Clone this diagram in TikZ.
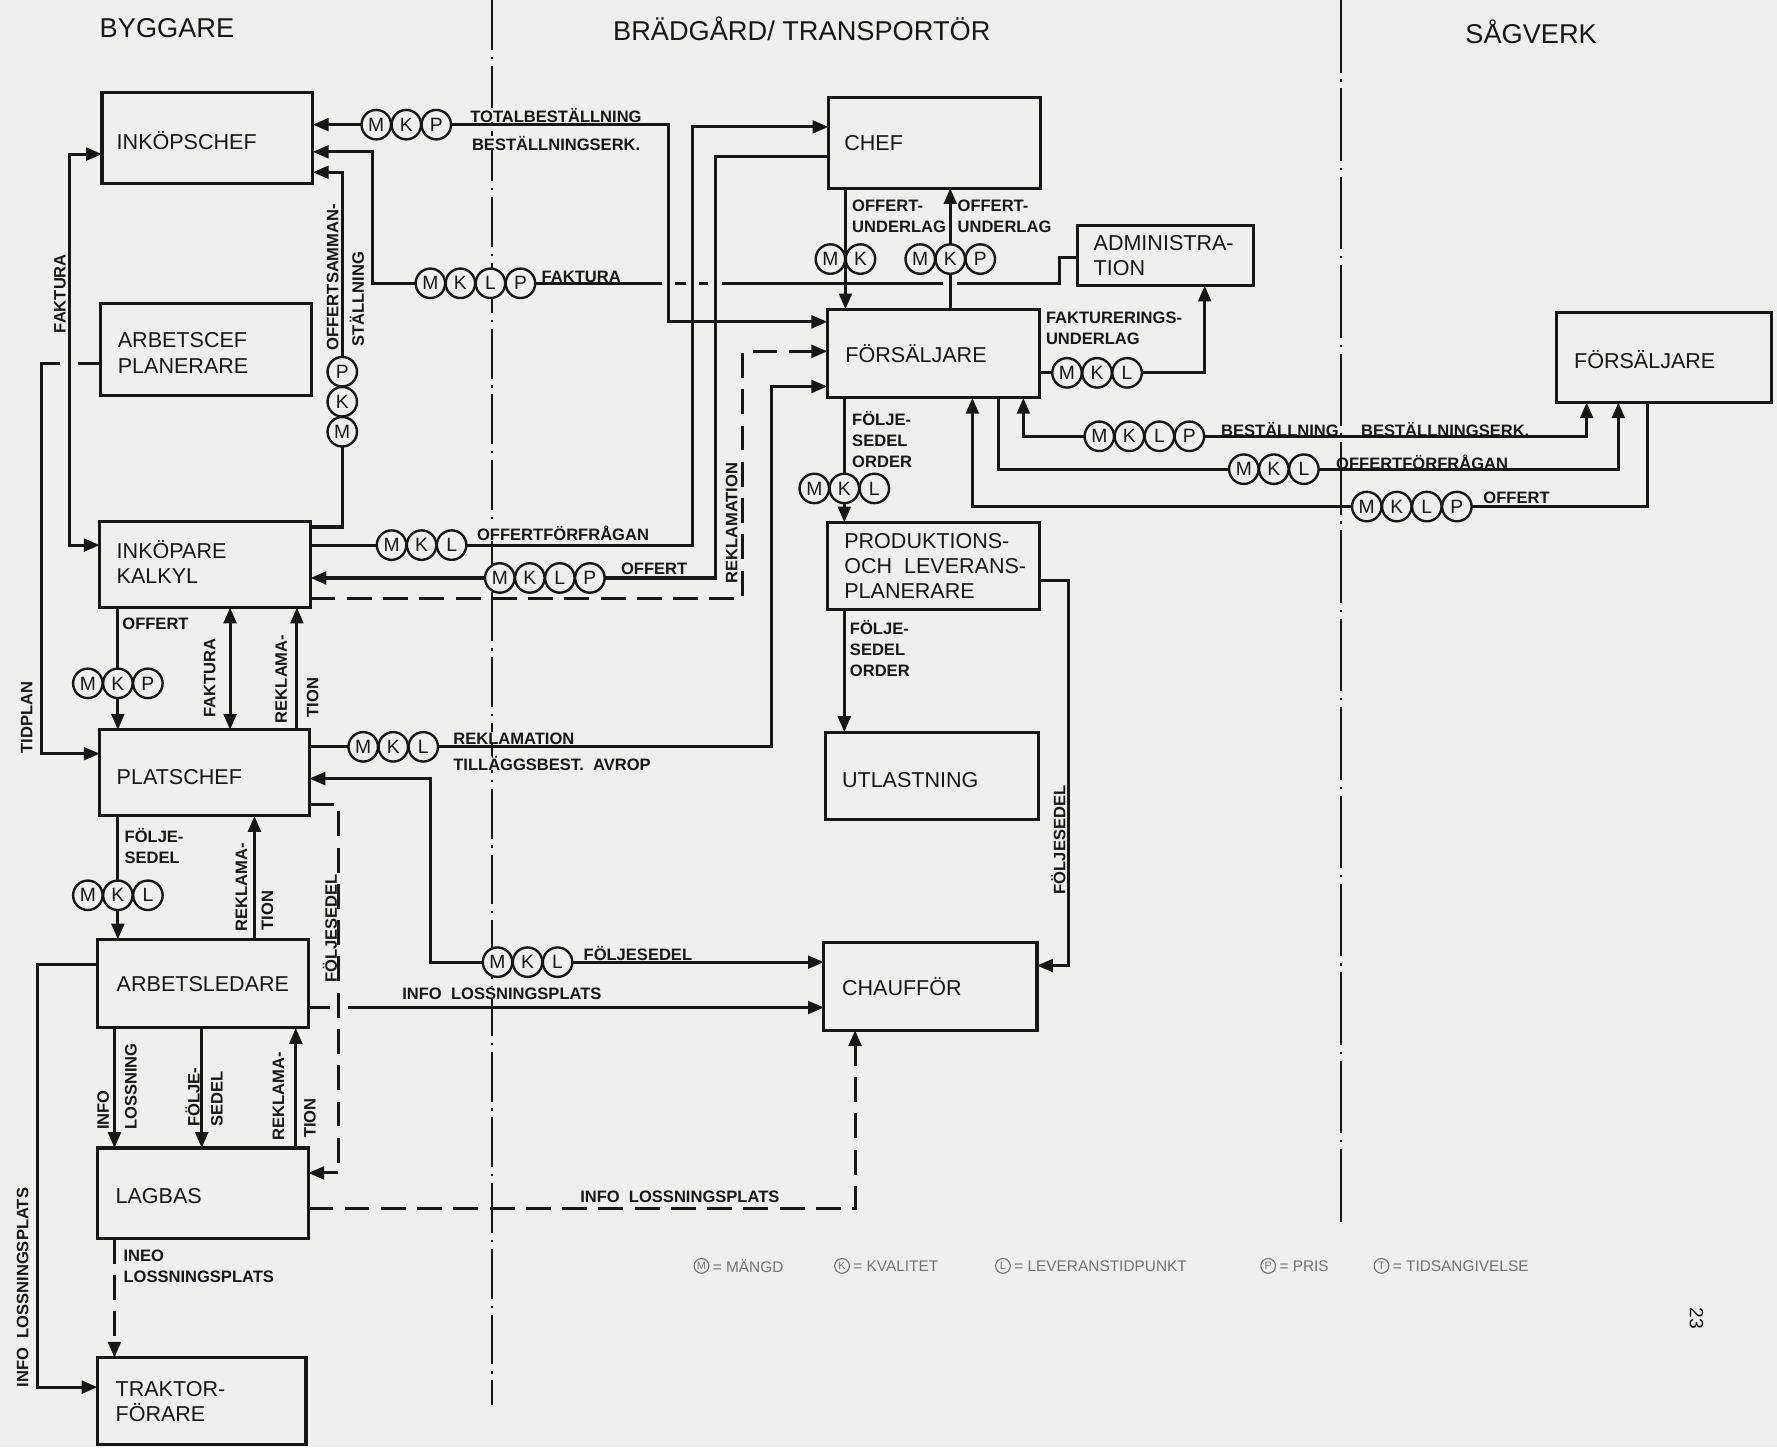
\documentclass[tikz,border=0pt]{standalone}
\usepackage{fontspec}
\setmainfont{Liberation Sans}
\usetikzlibrary{arrows.meta}
\definecolor{paper}{RGB}{239,239,237}
\definecolor{ink}{RGB}{22,22,22}
\newcommand{\tokh}[4]{\foreach \tk [count=\i from 0] in {#4}{\node[tok] (#1\i) at ({#2+\i*26.5},#3) {\tk};}}
\newcommand{\tokv}[4]{\foreach \tk [count=\i from 0] in {#4}{\node[tok] (#1\i) at (#2,{#3-\i*26.5}) {\tk};}}
\tikzset{
  every node/.style={inner sep=0pt, outer sep=0pt, text=ink},
  box/.style={draw=ink, line width=1.35pt},
  boxtxt/.style={anchor=west, align=left, font=\fontsize{9.5}{11.2}\selectfont},
  lab/.style={anchor=west, align=left, font=\fontsize{7.3}{9.3}\selectfont\bfseries},
  flab/.style={lab, fill=paper},
  rlab/.style={rotate=90, anchor=west, font=\fontsize{7.3}{9.3}\selectfont\bfseries},
  head/.style={anchor=west, font=\fontsize{12}{14}\selectfont},
  tok/.style={circle, draw=ink, fill=paper, line width=1.05pt, minimum size=13pt, font=\fontsize{8.5}{8.5}\selectfont},
  ltok/.style={circle, draw=ink!60, line width=0.5pt, minimum size=6.5pt, text=ink!60, font=\fontsize{4.8}{5}\selectfont},
  ltxt/.style={anchor=west, text=ink!60, font=\fontsize{6.8}{7.5}\selectfont},
  con/.style={draw=ink, line width=1.35pt},
  arr/.style={con, -{Triangle[length=7pt,width=5.6pt]}},
  barr/.style={con, {Triangle[length=7pt,width=5.6pt]}-{Triangle[length=7pt,width=5.6pt]}},
  dsh/.style={dash pattern=on 11pt off 5pt},
  dividerA/.style={draw=ink, line width=0.8pt, dash pattern=on 22pt off 3pt on 1pt off 3pt},
  dividerB/.style={draw=ink, line width=0.9pt, dash pattern=on 32pt off 3pt on 1pt off 3pt},
}
\begin{document}
\begin{tikzpicture}[x=0.5pt, y=-0.5pt]
\fill[paper] (0,0) rectangle (1568,1277);
\useasboundingbox (0,0) rectangle (1568,1277);

% dividers
\draw[dividerA] (434,0) -- (434,1240);
\draw[dividerB] (1183,0) -- (1183,1082);

% headers
\node[head] (hbygg) at (88,25) {BYGGARE};
\node[head] (hbrad) at (541,25) {BRÄDGÅRD/ TRANSPORTÖR};
\node[head] (hsag) at (1293,28) {SÅGVERK};

% boxes
\node[box, minimum width=93pt, minimum height=40pt] (inkopschef) at (183,122) {};
\node[box, minimum width=93pt, minimum height=40.5pt] (arbetschef) at (182,308.5) {};
\node[box, minimum width=93pt, minimum height=38pt] (inkopare) at (181,498) {};
\node[box, minimum width=92.5pt, minimum height=38pt] (platschef) at (180.5,682) {};
\node[box, minimum width=93pt, minimum height=39pt] (arbetsledare) at (179,868) {};
\node[box, minimum width=93pt, minimum height=40pt] (lagbas) at (179,1053) {};
\node[box, minimum width=92pt, minimum height=38.5pt] (traktor) at (178,1236.5) {};
\node[box, minimum width=93.5pt, minimum height=40pt] (chef) at (824.5,126) {};
\node[box, minimum width=77.5pt, minimum height=26.5pt] (admin) at (1028.5,225.5) {};
\node[box, minimum width=93.5pt, minimum height=39pt] (forsM) at (823.5,312) {};
\node[box, minimum width=93.5pt, minimum height=38.5pt] (prod) at (823.5,499.5) {};
\node[box, minimum width=94pt, minimum height=38.5pt] (utlast) at (822,684.5) {};
\node[box, minimum width=94pt, minimum height=38.5pt] (chauffor) at (821,870.5) {};
\node[box, minimum width=95pt, minimum height=39.5pt] (forsR) at (1468,315.5) {};

% box texts
\node[boxtxt] (inkopschef-t) at ([xshift=6.5pt,yshift=-1pt]inkopschef.west) {INKÖPSCHEF};
\node[boxtxt] (arbetschef-t) at ([xshift=7.5pt,yshift=-1.5pt]arbetschef.west) {ARBETSCEF\\PLANERARE};
\node[boxtxt] (inkopare-t) at ([xshift=7.5pt,yshift=1pt]inkopare.west) {INKÖPARE\\KALKYL};
\node[boxtxt] (platschef-t) at ([xshift=7.5pt,yshift=-2pt]platschef.west) {PLATSCHEF};
\node[boxtxt] (arbetsledare-t) at ([xshift=8.5pt]arbetsledare.west) {ARBETSLEDARE};
\node[boxtxt] (lagbas-t) at ([xshift=8pt,yshift=-1pt]lagbas.west) {LAGBAS};
\node[boxtxt] (traktor-t) at ([xshift=8pt]traktor.west) {TRAKTOR-\\FÖRARE};
\node[boxtxt] (chef-t) at ([xshift=7pt]chef.west) {CHEF};
\node[boxtxt] (admin-t) at ([xshift=7pt]admin.west) {ADMINISTRA-\\TION};
\node[boxtxt] (forsM-t) at ([xshift=8pt]forsM.west) {FÖRSÄLJARE};
\node[boxtxt] (prod-t) at ([xshift=7.5pt]prod.west) {PRODUKTIONS-\\OCH \ LEVERANS-\\PLANERARE};
\node[boxtxt] (utlast-t) at ([xshift=7.5pt,yshift=-2pt]utlast.west) {UTLASTNING};
\node[boxtxt] (chauffor-t) at ([xshift=8pt]chauffor.west) {CHAUFFÖR};
\node[boxtxt] (forsR-t) at ([xshift=8pt,yshift=-1pt]forsR.west) {FÖRSÄLJARE};

% lines that get crossed (drawn first)
\draw[arr] (admin.west |- 0,227) -- (935,227) -- (935,250) -- (329,250) -- (329,134) -- (inkopschef.east |- 0,134);
\draw[arr] (arbetschef.west |- 0,321) -- (37,321) -- (37,665) -- (platschef.west |- 0,665);
\draw[arr] (arbetsledare.east |- 0,889) -- (chauffor.west |- 0,889);
% crossing gaps
\fill[paper] (584,245) rectangle (596,255);
\fill[paper] (605,245) rectangle (617,255);
\fill[paper] (625,245) rectangle (637,255);
\fill[paper] (832.5,245) rectangle (844.5,255);
\fill[paper] (53,316) rectangle (69,326);
\fill[paper] (291,884) rectangle (307,894);

% connectors
\draw[barr] (inkopschef.east |- 0,110) -- (590,110) -- (590,284) -- (forsM.west |- 0,284);
\draw[barr] (inkopschef.west |- 0,136) -- (61,136) -- (61,481) -- (inkopare.west |- 0,481);
\draw[arr] (inkopare.east |- 0,465) -- (302,465) -- (302,152) -- (inkopschef.east |- 0,152);
\draw[arr] (inkopare.east |- 0,481) -- (611,481) -- (611,112) -- (chef.west |- 0,112);
\draw[arr] (chef.west |- 0,138) -- (631,138) -- (631,510) -- (inkopare.east |- 0,510);
\draw[arr, dsh] (inkopare.east |- 0,528) -- (655.5,528) -- (655.5,310) -- (forsM.west |- 0,310);
\draw[arr] (platschef.east |- 0,659) -- (681,659) -- (681,341) -- (forsM.west |- 0,341);
\draw[barr] (platschef.east |- 0,687) -- (380,687) -- (380,849) -- (chauffor.west |- 0,849);
\draw[arr, dsh] (platschef.east |- 0,710) -- (299,710) -- (299,1035) -- (lagbas.east |- 0,1035);
\draw[arr, dsh] (lagbas.east |- 0,1066) -- (754.5,1066) -- (chauffor.south -| 754.5,0);
\draw[arr] (arbetsledare.west |- 0,851) -- (33,851) -- (33,1224) -- (traktor.west |- 0,1224);

\draw[arr] (inkopare.south -| 104,0) -- (platschef.north -| 104,0);
\draw[barr] (inkopare.south -| 203,0) -- (platschef.north -| 203,0);
\draw[arr] (platschef.north -| 262,0) -- (inkopare.south -| 262,0);
\draw[arr] (platschef.south -| 104,0) -- (arbetsledare.north -| 104,0);
\draw[arr] (arbetsledare.north -| 224.5,0) -- (platschef.south -| 224.5,0);
\draw[arr] (arbetsledare.south -| 101,0) -- (lagbas.north -| 101,0);
\draw[arr] (arbetsledare.south -| 178,0) -- (lagbas.north -| 178,0);
\draw[arr] (lagbas.north -| 261,0) -- (arbetsledare.south -| 261,0);
\draw[arr, dsh] (lagbas.south -| 101,0) -- (traktor.north -| 101,0);

\draw[arr] (chef.south -| 746,0) -- (forsM.north -| 746,0);
\draw[arr] (forsM.north -| 838.5,0) -- (chef.south -| 838.5,0);
\draw[arr] (forsM.east |- 0,329) -- (1063,329) -- (admin.south -| 1063,0);
\draw[arr] (forsM.south -| 745,0) -- (prod.north -| 745,0);
\draw[arr] (prod.south -| 745,0) -- (utlast.north -| 745,0);
\draw[arr] (prod.east |- 0,512) -- (943,512) -- (943,852) -- (chauffor.east |- 0,852);

\draw[barr] (forsM.south -| 903,0) -- (903,385) -- (1400,385) -- (forsR.south -| 1400,0);
\draw[arr] (forsM.south -| 881,0) -- (881,414) -- (1428,414) -- (forsR.south -| 1428,0);
\draw[arr] (forsR.south -| 1454,0) -- (1454,447) -- (858,447) -- (forsM.south -| 858,0);

% token circles
\tokh{ga}{332}{110}{M,K,P}
\tokh{gb}{379.75}{250}{M,K,L,P}
\tokv{gc}{302}{381}{M,K,P}
\tokh{gd}{732.75}{228.6}{M,K}
\tokh{ge}{812}{228.6}{M,K,P}
\tokh{gf}{941.5}{329}{M,K,L}
\tokh{gg}{718.5}{431}{M,K,L}
\tokh{gh}{970}{385}{M,K,L,P}
\tokh{gi}{1097.5}{414}{M,K,L}
\tokh{gj}{1206}{447}{M,K,L,P}
\tokh{gk}{345.5}{481}{M,K,L}
\tokh{gl}{441}{510}{M,K,L,P}
\tokh{gm}{77.5}{603}{M,K,P}
\tokh{gn}{320.5}{659}{M,K,L}
\tokh{go}{77.5}{790}{M,K,L}
\tokh{gp}{439}{849}{M,K,L}

% horizontal labels
\node[flab] (l1) at (415,101.5) {TOTALBESTÄLLNING};
\node[flab] (l2) at (416.5,126.5) {BESTÄLLNINGSERK.};
\node[lab] (l3) at (478,244) {FAKTURA};
\node[flab] (l4) at (421,471) {OFFERTFÖRFRÅGAN};
\node[lab] (l5) at (548,501.5) {OFFERT};
\node[flab] (l6) at (400,651.5) {REKLAMATION};
\node[flab] (l7) at (400,673.5) {TILLÄGGSBEST. \ AVROP};
\node[lab] (l8) at (515,841) {FÖLJESEDEL};
\node[flab] (l9) at (355,876.5) {INFO \ LOSSNINGSPLATS};
\node[lab] (l10) at (512,1056) {INFO \ LOSSNINGSPLATS};
\node[lab] (l11) at (108,550) {OFFERT};
\node[lab] (l12) at (110,746.5) {FÖLJE-\\SEDEL};
\node[lab] (l13) at (109,1117) {INEO\\LOSSNINGSPLATS};
\node[lab] (l14) at (752,190.5) {OFFERT-\\UNDERLAG};
\node[lab] (l15) at (845,190.5) {OFFERT-\\UNDERLAG};
\node[lab] (l16) at (923,290) {FAKTURERINGS-\\UNDERLAG};
\node[lab] (l17) at (752,388) {FÖLJE-\\SEDEL\\ORDER};
\node[lab] (l18) at (750,572) {FÖLJE-\\SEDEL\\ORDER};
\node[lab] (l19) at (1077.5,379) {BESTÄLLNING};
\node[lab] (l20) at (1201,379) {BESTÄLLNINGSERK.};
\node[lab] (l21) at (1179,407.5) {OFFERTFÖRFRÅGAN};
\node[lab] (l22) at (1309,439.5) {OFFERT};

% rotated labels
\node[rlab] (r1) at (53,294) {FAKTURA};
\node[rlab] (r2) at (23.6,665) {TIDPLAN};
\node[rlab] (r3) at (185,633) {FAKTURA};
\node[rlab] (r4) at (248,638) {REKLAMA-};
\node[rlab] (r5) at (276,633) {TION};
\node[rlab] (r6) at (293.5,309) {OFFERTSAMMAN-};
\node[rlab] (r7) at (315,306) {STÄLLNING};
\node[rlab] (r8) at (645.6,515) {REKLAMATION};
\node[rlab] (r9) at (213,822) {REKLAMA-};
\node[rlab] (r10) at (236,821) {TION};
\node[rlab] (r11) at (291,867) {FÖLJESEDEL};
\node[rlab] (r12) at (934,789) {FÖLJESEDEL};
\node[rlab] (r13) at (91,997) {INFO};
\node[rlab] (r14) at (115.5,997) {LOSSNING};
\node[rlab] (r15) at (170,994) {FÖLJE-};
\node[rlab] (r16) at (191.5,994) {SEDEL};
\node[rlab] (r17) at (245.7,1006) {REKLAMA-};
\node[rlab] (r18) at (273.5,1004) {TION};
\node[rlab] (r19) at (20,1224) {INFO \ LOSSNINGSPLATS};

% legend
\node[ltok] (lgm) at (619,1117) {M};
\node[ltxt] (lgmt) at (629,1117) {= MÄNGD};
\node[ltok] (lgk) at (743,1117) {K};
\node[ltxt] (lgkt) at (753,1117) {= KVALITET};
\node[ltok] (lgl) at (885,1117) {L};
\node[ltxt] (lglt) at (895,1117) {= LEVERANSTIDPUNKT};
\node[ltok] (lgp) at (1119,1117) {P};
\node[ltxt] (lgpt) at (1129,1117) {= PRIS};
\node[ltok] (lgt) at (1219,1117) {T};
\node[ltxt] (lgtt) at (1229,1117) {= TIDSANGIVELSE};

% page number
\node[rotate=-90, font=\fontsize{8.5}{9}\selectfont] (pnum) at (1497,1163) {23};
\end{tikzpicture}
\end{document}
